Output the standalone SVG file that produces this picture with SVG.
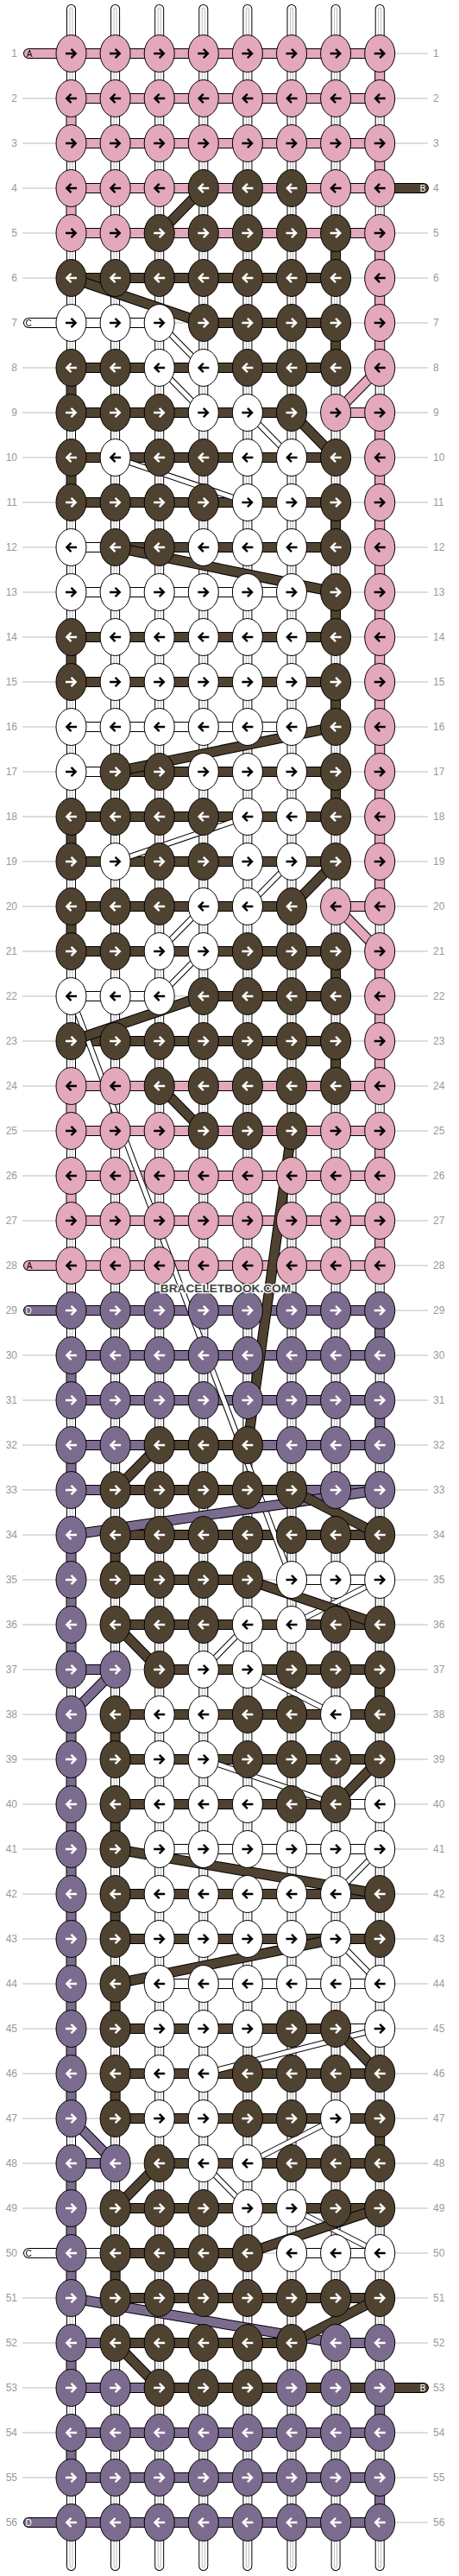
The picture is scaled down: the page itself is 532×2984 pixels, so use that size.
<svg xmlns="http://www.w3.org/2000/svg" width="532" height="2984" viewBox="0 0 532 2984">
<style>
.num{font-family:"Liberation Sans",Arial,sans-serif;font-size:12px;fill:#999}
.pill{font-family:"Liberation Sans",Arial,sans-serif;font-size:10px;text-anchor:middle}
.wm{font-family:"Liberation Sans",Arial,sans-serif;font-weight:bold;font-size:13.7px;fill:#444;stroke:#fff;stroke-width:2.5;paint-order:stroke;text-anchor:middle}
</style>
<defs>
<path id="ar" d="M-6.5 0H5M0-5.2L5.2 0L0 5.2" fill="none" stroke-width="2.4"/>
<path id="al" d="M6.5 0H-5M0-5.2L-5.2 0L0 5.2" fill="none" stroke-width="2.4"/>
<g id="PR"><ellipse rx="17.5" ry="21.5" fill="#e3a8ba" stroke="#000"/><use href="#ar" stroke="#000"/></g>
<g id="PL"><ellipse rx="17.5" ry="21.5" fill="#e3a8ba" stroke="#000"/><use href="#al" stroke="#000"/></g>
<g id="BR"><ellipse rx="17.5" ry="21.5" fill="#4f4230" stroke="#000"/><use href="#ar" stroke="#fff"/></g>
<g id="BL"><ellipse rx="17.5" ry="21.5" fill="#4f4230" stroke="#000"/><use href="#al" stroke="#fff"/></g>
<g id="WR"><ellipse rx="17.5" ry="21.5" fill="#fff" stroke="#000"/><use href="#ar" stroke="#000"/></g>
<g id="WL"><ellipse rx="17.5" ry="21.5" fill="#fff" stroke="#000"/><use href="#al" stroke="#000"/></g>
<g id="UR"><ellipse rx="17.5" ry="21.5" fill="#7b6c8f" stroke="#000"/><use href="#ar" stroke="#fff"/></g>
<g id="UL"><ellipse rx="17.5" ry="21.5" fill="#7b6c8f" stroke="#000"/><use href="#al" stroke="#fff"/></g>
<path id="strandPath" d="M82.5 10.5V2972.5M133.6 10.5V2972.5M184.7 10.5V2972.5M235.8 10.5V2972.5M286.9 10.5V2972.5M338 10.5V2972.5M389.1 10.5V2972.5M440.2 10.5V2972.5"/>
<path id="cW" d="M33 374H184.7M82.5 634H133.6M82.5 686H338M82.5 842H338M82.5 894H133.6M82.5 1154H184.7M338 1830H440.2M389.1 2090H440.2M184.7 2142H440.2M184.7 2298H440.2M389.1 2350H440.2M33 2610H133.6M338 2610H440.2"/>
<path id="cP" d="M33 62H440.2M82.5 114H440.2M82.5 166H440.2M82.5 218H440.2M82.5 270H440.2M389.1 478H440.2M389.1 1050H440.2M82.5 1258H440.2M82.5 1310H440.2M82.5 1362H440.2M82.5 1414H440.2M33 1466H440.2M440.2 62V114M440.2 166V218M440.2 270V426M440.2 478V1050M440.2 1102V1258M440.2 1310V1362M440.2 1414V1466M82.5 114V166M82.5 218V270M82.5 1258V1310M82.5 1362V1414"/>
<path id="cU" d="M33 1518H440.2M82.5 1570H440.2M82.5 1622H440.2M82.5 1674H184.7M286.9 1674H440.2M82.5 1726H133.6M338 1726H440.2M82.5 1934H133.6M82.5 2506H133.6M82.5 2714H133.6M389.1 2714H440.2M82.5 2766H184.7M82.5 2818H440.2M82.5 2870H440.2M33 2922H440.2M440.2 1518V1570M440.2 1622V1674M440.2 2766V2818M440.2 2870V2922M82.5 1570V1622M82.5 1674V1726M82.5 1778V1934M82.5 1986V2454M82.5 2506V2662M82.5 2714V2766M82.5 2818V2870"/>
<path id="cB" d="M440.2 218H491M82.5 322H389.1M235.8 374H389.1M82.5 426H389.1M82.5 478H338M82.5 530H389.1M82.5 582H389.1M133.6 634H389.1M82.5 738H389.1M82.5 790H389.1M133.6 894H389.1M82.5 946H389.1M82.5 998H389.1M82.5 1050H338M82.5 1102H389.1M235.8 1154H389.1M82.5 1206H389.1M184.7 1674H286.9M133.6 1726H338M133.6 1778H440.2M133.6 1830H286.9M133.6 1882H440.2M184.7 1934H440.2M133.6 1986H440.2M133.6 2038H440.2M133.6 2090H389.1M133.6 2194H440.2M133.6 2246H440.2M133.6 2350H389.1M133.6 2402H440.2M133.6 2454H440.2M184.7 2506H440.2M133.6 2558H440.2M133.6 2610H286.9M133.6 2662H440.2M133.6 2714H338M184.7 2766H491M389.1 270V322M389.1 374V426M389.1 582V634M389.1 686V738M389.1 790V842M389.1 894V946M389.1 1102V1154M389.1 1206V1258M82.5 426V478M82.5 530V582M82.5 738V790M82.5 946V998M82.5 1050V1102M133.6 1778V1830M133.6 1986V2038M133.6 2090V2142M133.6 2194V2246M133.6 2298V2350M133.6 2402V2454M133.6 2610V2662M440.2 1934V1986M440.2 2454V2506"/>
<path id="tW" d="M184.7 374L235.8 426M184.7 426L235.8 478M286.9 478L338 530M133.6 530L286.9 582M286.9 946L133.6 998M338 998L286.9 1050M235.8 1050L184.7 1102M235.8 1102L184.7 1154M82.5 1154L338 1830M440.2 1830L338 1882M286.9 1882L235.8 1934M286.9 1934L389.1 1986M235.8 2038L389.1 2090M440.2 2142L389.1 2194M389.1 2246L440.2 2298M440.2 2350L235.8 2402M389.1 2454L286.9 2506M235.8 2506L286.9 2558M338 2558L440.2 2610"/>
<path id="dB" d="M235.8 218L184.7 270M82.5 322L235.8 374M338 478L389.1 530M133.6 634L389.1 686M389.1 842L133.6 894M389.1 998L338 1050M235.8 1154L82.5 1206M184.7 1258L235.8 1310M338 1310L286.9 1674M184.7 1674L133.6 1726M338 1726L440.2 1778M286.9 1830L440.2 1882M133.6 1882L184.7 1934M440.2 2038L389.1 2090M133.6 2142L440.2 2194M389.1 2246L133.6 2298M389.1 2350L440.2 2402M184.7 2506L133.6 2558M440.2 2558L286.9 2610M440.2 2662L338 2714M133.6 2714L184.7 2766"/>
<path id="dP" d="M440.2 426L389.1 478M389.1 1050L440.2 1102"/>
<path id="dU" d="M440.2 1726L82.5 1778M133.6 1934L82.5 1986M82.5 2454L133.6 2506M82.5 2662L389.1 2714"/>
</defs>
<rect width="532" height="2984" fill="#fff"/>
<g id="rowlines" stroke="#bbb" stroke-width="1">
<path d="M26 62H496M26 114H496M26 166H496M26 218H496M26 270H496M26 322H496M26 374H496M26 426H496M26 478H496M26 530H496M26 582H496M26 634H496M26 686H496M26 738H496M26 790H496M26 842H496M26 894H496M26 946H496M26 998H496M26 1050H496M26 1102H496M26 1154H496M26 1206H496M26 1258H496M26 1310H496M26 1362H496M26 1414H496M26 1466H496M26 1518H496M26 1570H496M26 1622H496M26 1674H496M26 1726H496M26 1778H496M26 1830H496M26 1882H496M26 1934H496M26 1986H496M26 2038H496M26 2090H496M26 2142H496M26 2194H496M26 2246H496M26 2298H496M26 2350H496M26 2402H496M26 2454H496M26 2506H496M26 2558H496M26 2610H496M26 2662H496M26 2714H496M26 2766H496M26 2818H496M26 2870H496M26 2922H496"/>
</g>
<g id="rownumbers-left" class="num" text-anchor="end">
<text x="20" y="66">1</text><text x="20" y="118">2</text><text x="20" y="170">3</text><text x="20" y="222">4</text><text x="20" y="274">5</text><text x="20" y="326">6</text><text x="20" y="378">7</text><text x="20" y="430">8</text><text x="20" y="482">9</text><text x="20" y="534">10</text><text x="20" y="586">11</text><text x="20" y="638">12</text><text x="20" y="690">13</text><text x="20" y="742">14</text><text x="20" y="794">15</text><text x="20" y="846">16</text><text x="20" y="898">17</text><text x="20" y="950">18</text><text x="20" y="1002">19</text><text x="20" y="1054">20</text><text x="20" y="1106">21</text><text x="20" y="1158">22</text><text x="20" y="1210">23</text><text x="20" y="1262">24</text><text x="20" y="1314">25</text><text x="20" y="1366">26</text><text x="20" y="1418">27</text><text x="20" y="1470">28</text><text x="20" y="1522">29</text><text x="20" y="1574">30</text><text x="20" y="1626">31</text><text x="20" y="1678">32</text><text x="20" y="1730">33</text><text x="20" y="1782">34</text><text x="20" y="1834">35</text><text x="20" y="1886">36</text><text x="20" y="1938">37</text><text x="20" y="1990">38</text><text x="20" y="2042">39</text><text x="20" y="2094">40</text><text x="20" y="2146">41</text><text x="20" y="2198">42</text><text x="20" y="2250">43</text><text x="20" y="2302">44</text><text x="20" y="2354">45</text><text x="20" y="2406">46</text><text x="20" y="2458">47</text><text x="20" y="2510">48</text><text x="20" y="2562">49</text><text x="20" y="2614">50</text><text x="20" y="2666">51</text><text x="20" y="2718">52</text><text x="20" y="2770">53</text><text x="20" y="2822">54</text><text x="20" y="2874">55</text><text x="20" y="2926">56</text>
</g>
<g id="rownumbers-right" class="num">
<text x="502" y="66">1</text><text x="502" y="118">2</text><text x="502" y="170">3</text><text x="502" y="222">4</text><text x="502" y="274">5</text><text x="502" y="326">6</text><text x="502" y="378">7</text><text x="502" y="430">8</text><text x="502" y="482">9</text><text x="502" y="534">10</text><text x="502" y="586">11</text><text x="502" y="638">12</text><text x="502" y="690">13</text><text x="502" y="742">14</text><text x="502" y="794">15</text><text x="502" y="846">16</text><text x="502" y="898">17</text><text x="502" y="950">18</text><text x="502" y="1002">19</text><text x="502" y="1054">20</text><text x="502" y="1106">21</text><text x="502" y="1158">22</text><text x="502" y="1210">23</text><text x="502" y="1262">24</text><text x="502" y="1314">25</text><text x="502" y="1366">26</text><text x="502" y="1418">27</text><text x="502" y="1470">28</text><text x="502" y="1522">29</text><text x="502" y="1574">30</text><text x="502" y="1626">31</text><text x="502" y="1678">32</text><text x="502" y="1730">33</text><text x="502" y="1782">34</text><text x="502" y="1834">35</text><text x="502" y="1886">36</text><text x="502" y="1938">37</text><text x="502" y="1990">38</text><text x="502" y="2042">39</text><text x="502" y="2094">40</text><text x="502" y="2146">41</text><text x="502" y="2198">42</text><text x="502" y="2250">43</text><text x="502" y="2302">44</text><text x="502" y="2354">45</text><text x="502" y="2406">46</text><text x="502" y="2458">47</text><text x="502" y="2510">48</text><text x="502" y="2562">49</text><text x="502" y="2614">50</text><text x="502" y="2666">51</text><text x="502" y="2718">52</text><text x="502" y="2770">53</text><text x="502" y="2822">54</text><text x="502" y="2874">55</text><text x="502" y="2926">56</text>
</g>
<g id="strands" fill="none" stroke-linecap="round">
<use href="#strandPath" stroke="#000" stroke-width="11"/>
<use href="#strandPath" stroke="#fff" stroke-width="9"/>
<use href="#strandPath" stroke="#bbb" stroke-width="4"/>
<use href="#strandPath" stroke="#fff" stroke-width="2"/>
</g>
<g id="connectors" fill="none" stroke-linecap="round">
<use href="#cW" stroke="#000" stroke-width="12"/><use href="#cW" stroke="#fff" stroke-width="10"/>
<use href="#cP" stroke="#000" stroke-width="12"/><use href="#cP" stroke="#e3a8ba" stroke-width="10"/>
<use href="#cU" stroke="#000" stroke-width="12"/><use href="#cU" stroke="#7b6c8f" stroke-width="10"/>
<use href="#cB" stroke="#000" stroke-width="12"/><use href="#cB" stroke="#4f4230" stroke-width="10"/>
<use href="#tW" stroke="#000" stroke-width="7"/><use href="#tW" stroke="#fff" stroke-width="5"/>
<use href="#dP" stroke="#000" stroke-width="12"/><use href="#dP" stroke="#e3a8ba" stroke-width="10"/>
<use href="#dU" stroke="#000" stroke-width="12"/><use href="#dU" stroke="#7b6c8f" stroke-width="10"/>
<use href="#dB" stroke="#000" stroke-width="12"/><use href="#dB" stroke="#4f4230" stroke-width="10"/>
</g>
<g id="thread-labels" class="pill">
<text x="34" y="65.5" fill="#000">A</text>
<text x="490" y="221.5" fill="#fff">B</text>
<text x="33" y="377.5" fill="#000">C</text>
<text x="34" y="1469.5" fill="#000">A</text>
<text x="33" y="1521.5" fill="#fff">D</text>
<text x="33" y="2613.5" fill="#000">C</text>
<text x="490" y="2769.5" fill="#fff">B</text>
<text x="33" y="2925.5" fill="#fff">D</text>
</g>
<g id="nodes">
<g id="row1" transform="translate(0 62)"><g id="n1-1"><use href="#PR" x="82.5"/></g><g id="n1-2"><use href="#PR" x="133.6"/></g><g id="n1-3"><use href="#PR" x="184.7"/></g><g id="n1-4"><use href="#PR" x="235.8"/></g><g id="n1-5"><use href="#PR" x="286.9"/></g><g id="n1-6"><use href="#PR" x="338"/></g><g id="n1-7"><use href="#PR" x="389.1"/></g><g id="n1-8"><use href="#PR" x="440.2"/></g></g>
<g id="row2" transform="translate(0 114)"><g id="n2-1"><use href="#PL" x="82.5"/></g><g id="n2-2"><use href="#PL" x="133.6"/></g><g id="n2-3"><use href="#PL" x="184.7"/></g><g id="n2-4"><use href="#PL" x="235.8"/></g><g id="n2-5"><use href="#PL" x="286.9"/></g><g id="n2-6"><use href="#PL" x="338"/></g><g id="n2-7"><use href="#PL" x="389.1"/></g><g id="n2-8"><use href="#PL" x="440.2"/></g></g>
<g id="row3" transform="translate(0 166)"><g id="n3-1"><use href="#PR" x="82.5"/></g><g id="n3-2"><use href="#PR" x="133.6"/></g><g id="n3-3"><use href="#PR" x="184.7"/></g><g id="n3-4"><use href="#PR" x="235.8"/></g><g id="n3-5"><use href="#PR" x="286.9"/></g><g id="n3-6"><use href="#PR" x="338"/></g><g id="n3-7"><use href="#PR" x="389.1"/></g><g id="n3-8"><use href="#PR" x="440.2"/></g></g>
<g id="row4" transform="translate(0 218)"><g id="n4-1"><use href="#PL" x="82.5"/></g><g id="n4-2"><use href="#PL" x="133.6"/></g><g id="n4-3"><use href="#PL" x="184.7"/></g><g id="n4-4"><use href="#BL" x="235.8"/></g><g id="n4-5"><use href="#BL" x="286.9"/></g><g id="n4-6"><use href="#BL" x="338"/></g><g id="n4-7"><use href="#PL" x="389.1"/></g><g id="n4-8"><use href="#PL" x="440.2"/></g></g>
<g id="row5" transform="translate(0 270)"><g id="n5-1"><use href="#PR" x="82.5"/></g><g id="n5-2"><use href="#PR" x="133.6"/></g><g id="n5-3"><use href="#BR" x="184.7"/></g><g id="n5-4"><use href="#BR" x="235.8"/></g><g id="n5-5"><use href="#BR" x="286.9"/></g><g id="n5-6"><use href="#BR" x="338"/></g><g id="n5-7"><use href="#BR" x="389.1"/></g><g id="n5-8"><use href="#PR" x="440.2"/></g></g>
<g id="row6" transform="translate(0 322)"><g id="n6-1"><use href="#BL" x="82.5"/></g><g id="n6-2"><use href="#BL" x="133.6"/></g><g id="n6-3"><use href="#BL" x="184.7"/></g><g id="n6-4"><use href="#BL" x="235.8"/></g><g id="n6-5"><use href="#BL" x="286.9"/></g><g id="n6-6"><use href="#BL" x="338"/></g><g id="n6-7"><use href="#BL" x="389.1"/></g><g id="n6-8"><use href="#PL" x="440.2"/></g></g>
<g id="row7" transform="translate(0 374)"><g id="n7-1"><use href="#WR" x="82.5"/></g><g id="n7-2"><use href="#WR" x="133.6"/></g><g id="n7-3"><use href="#WR" x="184.7"/></g><g id="n7-4"><use href="#BR" x="235.8"/></g><g id="n7-5"><use href="#BR" x="286.9"/></g><g id="n7-6"><use href="#BR" x="338"/></g><g id="n7-7"><use href="#BR" x="389.1"/></g><g id="n7-8"><use href="#PR" x="440.2"/></g></g>
<g id="row8" transform="translate(0 426)"><g id="n8-1"><use href="#BL" x="82.5"/></g><g id="n8-2"><use href="#BL" x="133.6"/></g><g id="n8-3"><use href="#WL" x="184.7"/></g><g id="n8-4"><use href="#WL" x="235.8"/></g><g id="n8-5"><use href="#BL" x="286.9"/></g><g id="n8-6"><use href="#BL" x="338"/></g><g id="n8-7"><use href="#BL" x="389.1"/></g><g id="n8-8"><use href="#PL" x="440.2"/></g></g>
<g id="row9" transform="translate(0 478)"><g id="n9-1"><use href="#BR" x="82.5"/></g><g id="n9-2"><use href="#BR" x="133.6"/></g><g id="n9-3"><use href="#BR" x="184.7"/></g><g id="n9-4"><use href="#WR" x="235.8"/></g><g id="n9-5"><use href="#WR" x="286.9"/></g><g id="n9-6"><use href="#BR" x="338"/></g><g id="n9-7"><use href="#PR" x="389.1"/></g><g id="n9-8"><use href="#PR" x="440.2"/></g></g>
<g id="row10" transform="translate(0 530)"><g id="n10-1"><use href="#BL" x="82.5"/></g><g id="n10-2"><use href="#WL" x="133.6"/></g><g id="n10-3"><use href="#BL" x="184.7"/></g><g id="n10-4"><use href="#BL" x="235.8"/></g><g id="n10-5"><use href="#WL" x="286.9"/></g><g id="n10-6"><use href="#WL" x="338"/></g><g id="n10-7"><use href="#BL" x="389.1"/></g><g id="n10-8"><use href="#PL" x="440.2"/></g></g>
<g id="row11" transform="translate(0 582)"><g id="n11-1"><use href="#BR" x="82.5"/></g><g id="n11-2"><use href="#BR" x="133.6"/></g><g id="n11-3"><use href="#BR" x="184.7"/></g><g id="n11-4"><use href="#BR" x="235.8"/></g><g id="n11-5"><use href="#WR" x="286.9"/></g><g id="n11-6"><use href="#WR" x="338"/></g><g id="n11-7"><use href="#BR" x="389.1"/></g><g id="n11-8"><use href="#PR" x="440.2"/></g></g>
<g id="row12" transform="translate(0 634)"><g id="n12-1"><use href="#WL" x="82.5"/></g><g id="n12-2"><use href="#BL" x="133.6"/></g><g id="n12-3"><use href="#BL" x="184.7"/></g><g id="n12-4"><use href="#WL" x="235.8"/></g><g id="n12-5"><use href="#WL" x="286.9"/></g><g id="n12-6"><use href="#WL" x="338"/></g><g id="n12-7"><use href="#BL" x="389.1"/></g><g id="n12-8"><use href="#PL" x="440.2"/></g></g>
<g id="row13" transform="translate(0 686)"><g id="n13-1"><use href="#WR" x="82.5"/></g><g id="n13-2"><use href="#WR" x="133.6"/></g><g id="n13-3"><use href="#WR" x="184.7"/></g><g id="n13-4"><use href="#WR" x="235.8"/></g><g id="n13-5"><use href="#WR" x="286.9"/></g><g id="n13-6"><use href="#WR" x="338"/></g><g id="n13-7"><use href="#BR" x="389.1"/></g><g id="n13-8"><use href="#PR" x="440.2"/></g></g>
<g id="row14" transform="translate(0 738)"><g id="n14-1"><use href="#BL" x="82.5"/></g><g id="n14-2"><use href="#WL" x="133.6"/></g><g id="n14-3"><use href="#WL" x="184.7"/></g><g id="n14-4"><use href="#WL" x="235.8"/></g><g id="n14-5"><use href="#WL" x="286.9"/></g><g id="n14-6"><use href="#WL" x="338"/></g><g id="n14-7"><use href="#BL" x="389.1"/></g><g id="n14-8"><use href="#PL" x="440.2"/></g></g>
<g id="row15" transform="translate(0 790)"><g id="n15-1"><use href="#BR" x="82.5"/></g><g id="n15-2"><use href="#WR" x="133.6"/></g><g id="n15-3"><use href="#WR" x="184.7"/></g><g id="n15-4"><use href="#WR" x="235.8"/></g><g id="n15-5"><use href="#WR" x="286.9"/></g><g id="n15-6"><use href="#WR" x="338"/></g><g id="n15-7"><use href="#BR" x="389.1"/></g><g id="n15-8"><use href="#PR" x="440.2"/></g></g>
<g id="row16" transform="translate(0 842)"><g id="n16-1"><use href="#WL" x="82.5"/></g><g id="n16-2"><use href="#WL" x="133.6"/></g><g id="n16-3"><use href="#WL" x="184.7"/></g><g id="n16-4"><use href="#WL" x="235.8"/></g><g id="n16-5"><use href="#WL" x="286.9"/></g><g id="n16-6"><use href="#WL" x="338"/></g><g id="n16-7"><use href="#BL" x="389.1"/></g><g id="n16-8"><use href="#PL" x="440.2"/></g></g>
<g id="row17" transform="translate(0 894)"><g id="n17-1"><use href="#WR" x="82.5"/></g><g id="n17-2"><use href="#BR" x="133.6"/></g><g id="n17-3"><use href="#BR" x="184.7"/></g><g id="n17-4"><use href="#WR" x="235.8"/></g><g id="n17-5"><use href="#WR" x="286.9"/></g><g id="n17-6"><use href="#WR" x="338"/></g><g id="n17-7"><use href="#BR" x="389.1"/></g><g id="n17-8"><use href="#PR" x="440.2"/></g></g>
<g id="row18" transform="translate(0 946)"><g id="n18-1"><use href="#BL" x="82.5"/></g><g id="n18-2"><use href="#BL" x="133.6"/></g><g id="n18-3"><use href="#BL" x="184.7"/></g><g id="n18-4"><use href="#BL" x="235.8"/></g><g id="n18-5"><use href="#WL" x="286.9"/></g><g id="n18-6"><use href="#WL" x="338"/></g><g id="n18-7"><use href="#BL" x="389.1"/></g><g id="n18-8"><use href="#PL" x="440.2"/></g></g>
<g id="row19" transform="translate(0 998)"><g id="n19-1"><use href="#BR" x="82.5"/></g><g id="n19-2"><use href="#WR" x="133.6"/></g><g id="n19-3"><use href="#BR" x="184.7"/></g><g id="n19-4"><use href="#BR" x="235.8"/></g><g id="n19-5"><use href="#WR" x="286.9"/></g><g id="n19-6"><use href="#WR" x="338"/></g><g id="n19-7"><use href="#BR" x="389.1"/></g><g id="n19-8"><use href="#PR" x="440.2"/></g></g>
<g id="row20" transform="translate(0 1050)"><g id="n20-1"><use href="#BL" x="82.5"/></g><g id="n20-2"><use href="#BL" x="133.6"/></g><g id="n20-3"><use href="#BL" x="184.7"/></g><g id="n20-4"><use href="#WL" x="235.8"/></g><g id="n20-5"><use href="#WL" x="286.9"/></g><g id="n20-6"><use href="#BL" x="338"/></g><g id="n20-7"><use href="#PL" x="389.1"/></g><g id="n20-8"><use href="#PL" x="440.2"/></g></g>
<g id="row21" transform="translate(0 1102)"><g id="n21-1"><use href="#BR" x="82.5"/></g><g id="n21-2"><use href="#BR" x="133.6"/></g><g id="n21-3"><use href="#WR" x="184.7"/></g><g id="n21-4"><use href="#WR" x="235.8"/></g><g id="n21-5"><use href="#BR" x="286.9"/></g><g id="n21-6"><use href="#BR" x="338"/></g><g id="n21-7"><use href="#BR" x="389.1"/></g><g id="n21-8"><use href="#PR" x="440.2"/></g></g>
<g id="row22" transform="translate(0 1154)"><g id="n22-1"><use href="#WL" x="82.5"/></g><g id="n22-2"><use href="#WL" x="133.6"/></g><g id="n22-3"><use href="#WL" x="184.7"/></g><g id="n22-4"><use href="#BL" x="235.8"/></g><g id="n22-5"><use href="#BL" x="286.9"/></g><g id="n22-6"><use href="#BL" x="338"/></g><g id="n22-7"><use href="#BL" x="389.1"/></g><g id="n22-8"><use href="#PL" x="440.2"/></g></g>
<g id="row23" transform="translate(0 1206)"><g id="n23-1"><use href="#BR" x="82.5"/></g><g id="n23-2"><use href="#BR" x="133.6"/></g><g id="n23-3"><use href="#BR" x="184.7"/></g><g id="n23-4"><use href="#BR" x="235.8"/></g><g id="n23-5"><use href="#BR" x="286.9"/></g><g id="n23-6"><use href="#BR" x="338"/></g><g id="n23-7"><use href="#BR" x="389.1"/></g><g id="n23-8"><use href="#PR" x="440.2"/></g></g>
<g id="row24" transform="translate(0 1258)"><g id="n24-1"><use href="#PL" x="82.5"/></g><g id="n24-2"><use href="#PL" x="133.6"/></g><g id="n24-3"><use href="#BL" x="184.7"/></g><g id="n24-4"><use href="#BL" x="235.8"/></g><g id="n24-5"><use href="#BL" x="286.9"/></g><g id="n24-6"><use href="#BL" x="338"/></g><g id="n24-7"><use href="#BL" x="389.1"/></g><g id="n24-8"><use href="#PL" x="440.2"/></g></g>
<g id="row25" transform="translate(0 1310)"><g id="n25-1"><use href="#PR" x="82.5"/></g><g id="n25-2"><use href="#PR" x="133.6"/></g><g id="n25-3"><use href="#PR" x="184.7"/></g><g id="n25-4"><use href="#BR" x="235.8"/></g><g id="n25-5"><use href="#BR" x="286.9"/></g><g id="n25-6"><use href="#BR" x="338"/></g><g id="n25-7"><use href="#PR" x="389.1"/></g><g id="n25-8"><use href="#PR" x="440.2"/></g></g>
<g id="row26" transform="translate(0 1362)"><g id="n26-1"><use href="#PL" x="82.5"/></g><g id="n26-2"><use href="#PL" x="133.6"/></g><g id="n26-3"><use href="#PL" x="184.7"/></g><g id="n26-4"><use href="#PL" x="235.8"/></g><g id="n26-5"><use href="#PL" x="286.9"/></g><g id="n26-6"><use href="#PL" x="338"/></g><g id="n26-7"><use href="#PL" x="389.1"/></g><g id="n26-8"><use href="#PL" x="440.2"/></g></g>
<g id="row27" transform="translate(0 1414)"><g id="n27-1"><use href="#PR" x="82.5"/></g><g id="n27-2"><use href="#PR" x="133.6"/></g><g id="n27-3"><use href="#PR" x="184.7"/></g><g id="n27-4"><use href="#PR" x="235.8"/></g><g id="n27-5"><use href="#PR" x="286.9"/></g><g id="n27-6"><use href="#PR" x="338"/></g><g id="n27-7"><use href="#PR" x="389.1"/></g><g id="n27-8"><use href="#PR" x="440.2"/></g></g>
<g id="row28" transform="translate(0 1466)"><g id="n28-1"><use href="#PL" x="82.5"/></g><g id="n28-2"><use href="#PL" x="133.6"/></g><g id="n28-3"><use href="#PL" x="184.7"/></g><g id="n28-4"><use href="#PL" x="235.8"/></g><g id="n28-5"><use href="#PL" x="286.9"/></g><g id="n28-6"><use href="#PL" x="338"/></g><g id="n28-7"><use href="#PL" x="389.1"/></g><g id="n28-8"><use href="#PL" x="440.2"/></g></g>
<g id="row29" transform="translate(0 1518)"><g id="n29-1"><use href="#UR" x="82.5"/></g><g id="n29-2"><use href="#UR" x="133.6"/></g><g id="n29-3"><use href="#UR" x="184.7"/></g><g id="n29-4"><use href="#UR" x="235.8"/></g><g id="n29-5"><use href="#UR" x="286.9"/></g><g id="n29-6"><use href="#UR" x="338"/></g><g id="n29-7"><use href="#UR" x="389.1"/></g><g id="n29-8"><use href="#UR" x="440.2"/></g></g>
<g id="row30" transform="translate(0 1570)"><g id="n30-1"><use href="#UL" x="82.5"/></g><g id="n30-2"><use href="#UL" x="133.6"/></g><g id="n30-3"><use href="#UL" x="184.7"/></g><g id="n30-4"><use href="#UL" x="235.8"/></g><g id="n30-5"><use href="#UL" x="286.9"/></g><g id="n30-6"><use href="#UL" x="338"/></g><g id="n30-7"><use href="#UL" x="389.1"/></g><g id="n30-8"><use href="#UL" x="440.2"/></g></g>
<g id="row31" transform="translate(0 1622)"><g id="n31-1"><use href="#UR" x="82.5"/></g><g id="n31-2"><use href="#UR" x="133.6"/></g><g id="n31-3"><use href="#UR" x="184.7"/></g><g id="n31-4"><use href="#UR" x="235.8"/></g><g id="n31-5"><use href="#UR" x="286.9"/></g><g id="n31-6"><use href="#UR" x="338"/></g><g id="n31-7"><use href="#UR" x="389.1"/></g><g id="n31-8"><use href="#UR" x="440.2"/></g></g>
<g id="row32" transform="translate(0 1674)"><g id="n32-1"><use href="#UL" x="82.5"/></g><g id="n32-2"><use href="#UL" x="133.6"/></g><g id="n32-3"><use href="#BL" x="184.7"/></g><g id="n32-4"><use href="#BL" x="235.8"/></g><g id="n32-5"><use href="#BL" x="286.9"/></g><g id="n32-6"><use href="#UL" x="338"/></g><g id="n32-7"><use href="#UL" x="389.1"/></g><g id="n32-8"><use href="#UL" x="440.2"/></g></g>
<g id="row33" transform="translate(0 1726)"><g id="n33-1"><use href="#UR" x="82.5"/></g><g id="n33-2"><use href="#BR" x="133.6"/></g><g id="n33-3"><use href="#BR" x="184.7"/></g><g id="n33-4"><use href="#BR" x="235.8"/></g><g id="n33-5"><use href="#BR" x="286.9"/></g><g id="n33-6"><use href="#BR" x="338"/></g><g id="n33-7"><use href="#UR" x="389.1"/></g><g id="n33-8"><use href="#UR" x="440.2"/></g></g>
<g id="row34" transform="translate(0 1778)"><g id="n34-1"><use href="#UL" x="82.5"/></g><g id="n34-2"><use href="#BL" x="133.6"/></g><g id="n34-3"><use href="#BL" x="184.7"/></g><g id="n34-4"><use href="#BL" x="235.8"/></g><g id="n34-5"><use href="#BL" x="286.9"/></g><g id="n34-6"><use href="#BL" x="338"/></g><g id="n34-7"><use href="#BL" x="389.1"/></g><g id="n34-8"><use href="#BL" x="440.2"/></g></g>
<g id="row35" transform="translate(0 1830)"><g id="n35-1"><use href="#UR" x="82.5"/></g><g id="n35-2"><use href="#BR" x="133.6"/></g><g id="n35-3"><use href="#BR" x="184.7"/></g><g id="n35-4"><use href="#BR" x="235.8"/></g><g id="n35-5"><use href="#BR" x="286.9"/></g><g id="n35-6"><use href="#WR" x="338"/></g><g id="n35-7"><use href="#WR" x="389.1"/></g><g id="n35-8"><use href="#WR" x="440.2"/></g></g>
<g id="row36" transform="translate(0 1882)"><g id="n36-1"><use href="#UL" x="82.5"/></g><g id="n36-2"><use href="#BL" x="133.6"/></g><g id="n36-3"><use href="#BL" x="184.7"/></g><g id="n36-4"><use href="#BL" x="235.8"/></g><g id="n36-5"><use href="#WL" x="286.9"/></g><g id="n36-6"><use href="#WL" x="338"/></g><g id="n36-7"><use href="#BL" x="389.1"/></g><g id="n36-8"><use href="#BL" x="440.2"/></g></g>
<g id="row37" transform="translate(0 1934)"><g id="n37-1"><use href="#UR" x="82.5"/></g><g id="n37-2"><use href="#UR" x="133.6"/></g><g id="n37-3"><use href="#BR" x="184.7"/></g><g id="n37-4"><use href="#WR" x="235.8"/></g><g id="n37-5"><use href="#WR" x="286.9"/></g><g id="n37-6"><use href="#BR" x="338"/></g><g id="n37-7"><use href="#BR" x="389.1"/></g><g id="n37-8"><use href="#BR" x="440.2"/></g></g>
<g id="row38" transform="translate(0 1986)"><g id="n38-1"><use href="#UL" x="82.5"/></g><g id="n38-2"><use href="#BL" x="133.6"/></g><g id="n38-3"><use href="#WL" x="184.7"/></g><g id="n38-4"><use href="#WL" x="235.8"/></g><g id="n38-5"><use href="#BL" x="286.9"/></g><g id="n38-6"><use href="#BL" x="338"/></g><g id="n38-7"><use href="#WL" x="389.1"/></g><g id="n38-8"><use href="#BL" x="440.2"/></g></g>
<g id="row39" transform="translate(0 2038)"><g id="n39-1"><use href="#UR" x="82.5"/></g><g id="n39-2"><use href="#BR" x="133.6"/></g><g id="n39-3"><use href="#WR" x="184.7"/></g><g id="n39-4"><use href="#WR" x="235.8"/></g><g id="n39-5"><use href="#BR" x="286.9"/></g><g id="n39-6"><use href="#BR" x="338"/></g><g id="n39-7"><use href="#BR" x="389.1"/></g><g id="n39-8"><use href="#BR" x="440.2"/></g></g>
<g id="row40" transform="translate(0 2090)"><g id="n40-1"><use href="#UL" x="82.5"/></g><g id="n40-2"><use href="#BL" x="133.6"/></g><g id="n40-3"><use href="#WL" x="184.7"/></g><g id="n40-4"><use href="#WL" x="235.8"/></g><g id="n40-5"><use href="#WL" x="286.9"/></g><g id="n40-6"><use href="#BL" x="338"/></g><g id="n40-7"><use href="#BL" x="389.1"/></g><g id="n40-8"><use href="#WL" x="440.2"/></g></g>
<g id="row41" transform="translate(0 2142)"><g id="n41-1"><use href="#UR" x="82.5"/></g><g id="n41-2"><use href="#BR" x="133.6"/></g><g id="n41-3"><use href="#WR" x="184.7"/></g><g id="n41-4"><use href="#WR" x="235.8"/></g><g id="n41-5"><use href="#WR" x="286.9"/></g><g id="n41-6"><use href="#WR" x="338"/></g><g id="n41-7"><use href="#WR" x="389.1"/></g><g id="n41-8"><use href="#WR" x="440.2"/></g></g>
<g id="row42" transform="translate(0 2194)"><g id="n42-1"><use href="#UL" x="82.5"/></g><g id="n42-2"><use href="#BL" x="133.6"/></g><g id="n42-3"><use href="#WL" x="184.7"/></g><g id="n42-4"><use href="#WL" x="235.8"/></g><g id="n42-5"><use href="#WL" x="286.9"/></g><g id="n42-6"><use href="#WL" x="338"/></g><g id="n42-7"><use href="#WL" x="389.1"/></g><g id="n42-8"><use href="#BL" x="440.2"/></g></g>
<g id="row43" transform="translate(0 2246)"><g id="n43-1"><use href="#UR" x="82.5"/></g><g id="n43-2"><use href="#BR" x="133.6"/></g><g id="n43-3"><use href="#WR" x="184.7"/></g><g id="n43-4"><use href="#WR" x="235.8"/></g><g id="n43-5"><use href="#WR" x="286.9"/></g><g id="n43-6"><use href="#WR" x="338"/></g><g id="n43-7"><use href="#WR" x="389.1"/></g><g id="n43-8"><use href="#BR" x="440.2"/></g></g>
<g id="row44" transform="translate(0 2298)"><g id="n44-1"><use href="#UL" x="82.5"/></g><g id="n44-2"><use href="#BL" x="133.6"/></g><g id="n44-3"><use href="#WL" x="184.7"/></g><g id="n44-4"><use href="#WL" x="235.8"/></g><g id="n44-5"><use href="#WL" x="286.9"/></g><g id="n44-6"><use href="#WL" x="338"/></g><g id="n44-7"><use href="#WL" x="389.1"/></g><g id="n44-8"><use href="#WL" x="440.2"/></g></g>
<g id="row45" transform="translate(0 2350)"><g id="n45-1"><use href="#UR" x="82.5"/></g><g id="n45-2"><use href="#BR" x="133.6"/></g><g id="n45-3"><use href="#WR" x="184.7"/></g><g id="n45-4"><use href="#WR" x="235.8"/></g><g id="n45-5"><use href="#WR" x="286.9"/></g><g id="n45-6"><use href="#BR" x="338"/></g><g id="n45-7"><use href="#BR" x="389.1"/></g><g id="n45-8"><use href="#WR" x="440.2"/></g></g>
<g id="row46" transform="translate(0 2402)"><g id="n46-1"><use href="#UL" x="82.5"/></g><g id="n46-2"><use href="#BL" x="133.6"/></g><g id="n46-3"><use href="#WL" x="184.7"/></g><g id="n46-4"><use href="#WL" x="235.8"/></g><g id="n46-5"><use href="#BL" x="286.9"/></g><g id="n46-6"><use href="#BL" x="338"/></g><g id="n46-7"><use href="#BL" x="389.1"/></g><g id="n46-8"><use href="#BL" x="440.2"/></g></g>
<g id="row47" transform="translate(0 2454)"><g id="n47-1"><use href="#UR" x="82.5"/></g><g id="n47-2"><use href="#BR" x="133.6"/></g><g id="n47-3"><use href="#WR" x="184.7"/></g><g id="n47-4"><use href="#WR" x="235.8"/></g><g id="n47-5"><use href="#BR" x="286.9"/></g><g id="n47-6"><use href="#BR" x="338"/></g><g id="n47-7"><use href="#WR" x="389.1"/></g><g id="n47-8"><use href="#BR" x="440.2"/></g></g>
<g id="row48" transform="translate(0 2506)"><g id="n48-1"><use href="#UL" x="82.5"/></g><g id="n48-2"><use href="#UL" x="133.6"/></g><g id="n48-3"><use href="#BL" x="184.7"/></g><g id="n48-4"><use href="#WL" x="235.8"/></g><g id="n48-5"><use href="#WL" x="286.9"/></g><g id="n48-6"><use href="#BL" x="338"/></g><g id="n48-7"><use href="#BL" x="389.1"/></g><g id="n48-8"><use href="#BL" x="440.2"/></g></g>
<g id="row49" transform="translate(0 2558)"><g id="n49-1"><use href="#UR" x="82.5"/></g><g id="n49-2"><use href="#BR" x="133.6"/></g><g id="n49-3"><use href="#BR" x="184.7"/></g><g id="n49-4"><use href="#BR" x="235.8"/></g><g id="n49-5"><use href="#WR" x="286.9"/></g><g id="n49-6"><use href="#WR" x="338"/></g><g id="n49-7"><use href="#BR" x="389.1"/></g><g id="n49-8"><use href="#BR" x="440.2"/></g></g>
<g id="row50" transform="translate(0 2610)"><g id="n50-1"><use href="#UL" x="82.5"/></g><g id="n50-2"><use href="#BL" x="133.6"/></g><g id="n50-3"><use href="#BL" x="184.7"/></g><g id="n50-4"><use href="#BL" x="235.8"/></g><g id="n50-5"><use href="#BL" x="286.9"/></g><g id="n50-6"><use href="#WL" x="338"/></g><g id="n50-7"><use href="#WL" x="389.1"/></g><g id="n50-8"><use href="#WL" x="440.2"/></g></g>
<g id="row51" transform="translate(0 2662)"><g id="n51-1"><use href="#UR" x="82.5"/></g><g id="n51-2"><use href="#BR" x="133.6"/></g><g id="n51-3"><use href="#BR" x="184.7"/></g><g id="n51-4"><use href="#BR" x="235.8"/></g><g id="n51-5"><use href="#BR" x="286.9"/></g><g id="n51-6"><use href="#BR" x="338"/></g><g id="n51-7"><use href="#BR" x="389.1"/></g><g id="n51-8"><use href="#BR" x="440.2"/></g></g>
<g id="row52" transform="translate(0 2714)"><g id="n52-1"><use href="#UL" x="82.5"/></g><g id="n52-2"><use href="#BL" x="133.6"/></g><g id="n52-3"><use href="#BL" x="184.7"/></g><g id="n52-4"><use href="#BL" x="235.8"/></g><g id="n52-5"><use href="#BL" x="286.9"/></g><g id="n52-6"><use href="#BL" x="338"/></g><g id="n52-7"><use href="#UL" x="389.1"/></g><g id="n52-8"><use href="#UL" x="440.2"/></g></g>
<g id="row53" transform="translate(0 2766)"><g id="n53-1"><use href="#UR" x="82.5"/></g><g id="n53-2"><use href="#UR" x="133.6"/></g><g id="n53-3"><use href="#BR" x="184.7"/></g><g id="n53-4"><use href="#BR" x="235.8"/></g><g id="n53-5"><use href="#BR" x="286.9"/></g><g id="n53-6"><use href="#UR" x="338"/></g><g id="n53-7"><use href="#UR" x="389.1"/></g><g id="n53-8"><use href="#UR" x="440.2"/></g></g>
<g id="row54" transform="translate(0 2818)"><g id="n54-1"><use href="#UL" x="82.5"/></g><g id="n54-2"><use href="#UL" x="133.6"/></g><g id="n54-3"><use href="#UL" x="184.7"/></g><g id="n54-4"><use href="#UL" x="235.8"/></g><g id="n54-5"><use href="#UL" x="286.9"/></g><g id="n54-6"><use href="#UL" x="338"/></g><g id="n54-7"><use href="#UL" x="389.1"/></g><g id="n54-8"><use href="#UL" x="440.2"/></g></g>
<g id="row55" transform="translate(0 2870)"><g id="n55-1"><use href="#UR" x="82.5"/></g><g id="n55-2"><use href="#UR" x="133.6"/></g><g id="n55-3"><use href="#UR" x="184.7"/></g><g id="n55-4"><use href="#UR" x="235.8"/></g><g id="n55-5"><use href="#UR" x="286.9"/></g><g id="n55-6"><use href="#UR" x="338"/></g><g id="n55-7"><use href="#UR" x="389.1"/></g><g id="n55-8"><use href="#UR" x="440.2"/></g></g>
<g id="row56" transform="translate(0 2922)"><g id="n56-1"><use href="#UL" x="82.5"/></g><g id="n56-2"><use href="#UL" x="133.6"/></g><g id="n56-3"><use href="#UL" x="184.7"/></g><g id="n56-4"><use href="#UL" x="235.8"/></g><g id="n56-5"><use href="#UL" x="286.9"/></g><g id="n56-6"><use href="#UL" x="338"/></g><g id="n56-7"><use href="#UL" x="389.1"/></g><g id="n56-8"><use href="#UL" x="440.2"/></g></g>
</g>
<text class="wm" x="261.5" y="1497">BRACELETBOOK.COM</text>
</svg>
